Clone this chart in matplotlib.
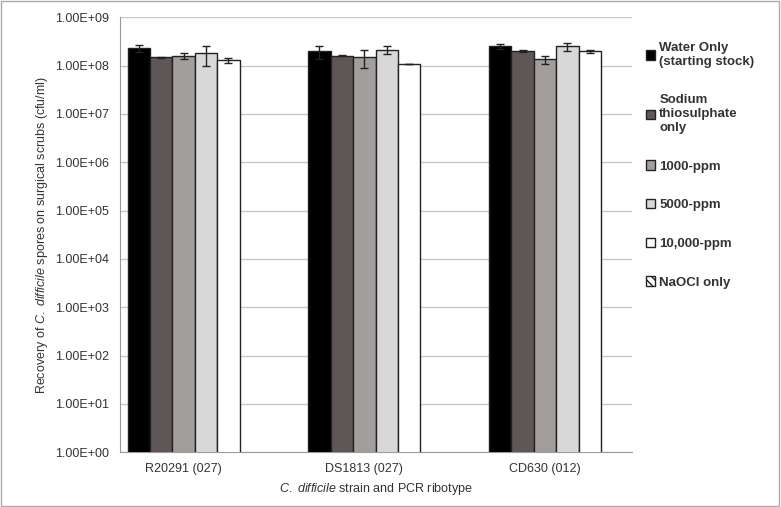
import matplotlib
matplotlib.use("Agg")
import matplotlib.pyplot as plt
import numpy as np
from matplotlib.patches import Patch

strains = ["R20291 (027)", "DS1813 (027)", "CD630 (012)"]
series = ["Water Only\n(starting stock)", "Sodium\nthiosulphate\nonly", "1000-ppm", "5000-ppm", "10,000-ppm"]
values = [
    [2.3e8, 2.0e8, 2.5e8],
    [1.47e8, 1.6e8, 2.05e8],
    [1.6e8, 1.5e8, 1.34e8],
    [1.8e8, 2.15e8, 2.5e8],
    [1.3e8, 1.08e8, 2.0e8],
]
errors = [
    [0.35e8, 0.6e8, 0.25e8],
    [0.05e8, 0.05e8, 0.1e8],
    [0.2e8, 0.6e8, 0.25e8],
    [0.8e8, 0.45e8, 0.5e8],
    [0.15e8, 0.02e8, 0.15e8],
]
colors = ["#000000", "#5f5757", "#a29e9c", "#d8d8d8", "#ffffff"]
ytick_labels = ["1.00E+00", "1.00E+01", "1.00E+02", "1.00E+03", "1.00E+04",
                "1.00E+05", "1.00E+06", "1.00E+07", "1.00E+08", "1.00E+09"]

plt.rcParams["font.family"] = "Liberation Sans"
plt.rcParams["mathtext.fontset"] = "custom"
plt.rcParams["mathtext.it"] = "Liberation Sans:italic"
plt.rcParams["mathtext.rm"] = "Liberation Sans"
fig = plt.figure(figsize=(7.81, 5.07), dpi=100)
ax = fig.add_axes([0.154, 0.108, 0.655, 0.858])
x = np.arange(len(strains))
w = 0.124
for i in range(5):
    ax.bar(x + (i - 2) * w, values[i], w, color=colors[i], edgecolor="#222222", linewidth=1.0,
           yerr=errors[i], capsize=3, error_kw=dict(elinewidth=1, ecolor="#222222"), zorder=3)
ax.set_yscale("log")
ax.set_ylim(1, 1e9)
ax.set_yticks([10.0 ** k for k in range(10)])
ax.set_yticklabels(ytick_labels, fontsize=9, color="#333333")
ax.minorticks_off()
ax.set_xticks(x)
ax.set_xticklabels(strains, fontsize=9, color="#333333")
ax.set_xlim(-0.35, 2.48)
ax.grid(axis="y", color="#c8c8c8", linewidth=1, zorder=0)
for s in ["top", "right"]:
    ax.spines[s].set_visible(False)
for s in ["left", "bottom"]:
    ax.spines[s].set_color("#999999")
ax.tick_params(length=0, pad=8)
ax.set_xlabel(r"$\it{C.\ difficile}$ strain and PCR ribotype", fontsize=9, color="#333333", labelpad=4)
ax.set_ylabel(r"Recovery of $\it{C.\ difficile}$ spores on surgical scrubs (cfu/ml)", fontsize=9, color="#333333")

handles = [Patch(facecolor=colors[i], edgecolor="#222222") for i in range(5)]
handles.append(Patch(facecolor="white", edgecolor="#222222", hatch="\\\\\\\\"))
labels = series + ["NaOCl only"]
leg = fig.legend(handles, labels, loc="upper left", bbox_to_anchor=(0.812, 0.94), frameon=False,
                 prop=dict(size=9.5, weight="bold"), labelcolor="#333333", handlelength=0.7,
                 handleheight=0.7, handletextpad=0.3, labelspacing=2.0)
fig.patches.append(plt.Rectangle((0.001, 0.001), 0.997, 0.997, transform=fig.transFigure,
                                 fill=False, edgecolor="#aaaaaa", linewidth=1))
fig.savefig("out.png", dpi=100)
